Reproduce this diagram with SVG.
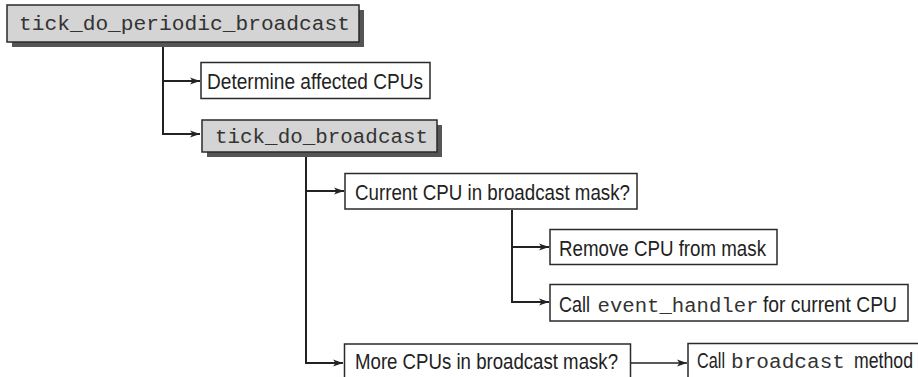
<svg xmlns="http://www.w3.org/2000/svg" width="918" height="377" viewBox="0 0 918 377">
<style>
.box{fill:#fff;stroke:#2a2a2a;stroke-width:1.5}
.gbox{fill:#d4d4d4;stroke:#2a2a2a;stroke-width:1.5}
.shadow{fill:#555}
.sans{font-family:"Liberation Sans",Arial,sans-serif;font-size:22px;fill:#222}
.mono{font-family:"Liberation Mono","Courier New",monospace;font-size:19.5px;fill:#333}
.conn{fill:none;stroke:#222;stroke-width:2}
</style>
<defs>
<marker id="arr" markerWidth="10" markerHeight="8" refX="10" refY="4" orient="auto" markerUnits="userSpaceOnUse">
<path d="M0,0.5 L10,4 L0,7.5 L2.5,4 z" fill="#222"/>
</marker>
</defs>
<rect width="918" height="377" fill="#fff"/>
<g id="connectors">
<path class="conn" d="M163,43 V134 H200" marker-end="url(#arr)"/>
<path class="conn" d="M163,81 H200" marker-end="url(#arr)"/>
<path class="conn" d="M306,153 V363 H343" marker-end="url(#arr)"/>
<path class="conn" d="M306,191 H344" marker-end="url(#arr)"/>
<path class="conn" d="M512,210 V302 H549" marker-end="url(#arr)"/>
<path class="conn" d="M512,247 H549" marker-end="url(#arr)"/>
<path class="conn" style="stroke-width:1.5" d="M631,363 H687" marker-end="url(#arr)"/>
</g>
<g id="n1">
<rect class="shadow" x="12" y="10" width="352" height="37"/>
<rect class="gbox" x="7" y="5" width="352" height="37"/>
<text class="mono" x="19" y="30" textLength="331" lengthAdjust="spacingAndGlyphs">tick_do_periodic_broadcast</text>
</g>
<g id="n2">
<rect class="box" x="201" y="62.5" width="229" height="36"/>
<text class="sans" x="207" y="88.5" textLength="216" lengthAdjust="spacingAndGlyphs">Determine affected CPUs</text>
</g>
<g id="n3">
<rect class="shadow" x="207" y="125" width="235" height="32"/>
<rect class="gbox" x="202" y="120" width="235" height="32"/>
<text class="mono" x="215" y="143" textLength="213" lengthAdjust="spacingAndGlyphs">tick_do_broadcast</text>
</g>
<g id="n4">
<rect class="box" x="345" y="173.5" width="292" height="35.5"/>
<text class="sans" x="355" y="199.5" textLength="275" lengthAdjust="spacingAndGlyphs">Current CPU in broadcast mask?</text>
</g>
<g id="n5">
<rect class="box" x="550" y="229.5" width="227" height="35"/>
<text class="sans" x="559" y="255.5" textLength="207" lengthAdjust="spacingAndGlyphs">Remove CPU from mask</text>
</g>
<g id="n6">
<rect class="box" x="550" y="284.5" width="358" height="36.5"/>
<text class="sans" x="559" y="311.5" textLength="31" lengthAdjust="spacingAndGlyphs">Call</text>
<text class="mono" x="597.5" y="311.5" textLength="161" lengthAdjust="spacingAndGlyphs">event_handler</text>
<text class="sans" x="763" y="311.5" textLength="134" lengthAdjust="spacingAndGlyphs">for current CPU</text>
</g>
<g id="n7">
<rect class="box" x="344.5" y="344" width="286" height="40"/>
<text class="sans" x="355" y="368.5" textLength="263" lengthAdjust="spacingAndGlyphs">More CPUs in broadcast mask?</text>
</g>
<g id="n8">
<rect class="box" x="688" y="343.5" width="240" height="40"/>
<text class="sans" x="697" y="368" textLength="28" lengthAdjust="spacingAndGlyphs">Call</text>
<text class="mono" x="731" y="368" textLength="114" lengthAdjust="spacingAndGlyphs">broadcast</text>
<text class="sans" x="854" y="368" textLength="59" lengthAdjust="spacingAndGlyphs">method</text>
</g>
</svg>
